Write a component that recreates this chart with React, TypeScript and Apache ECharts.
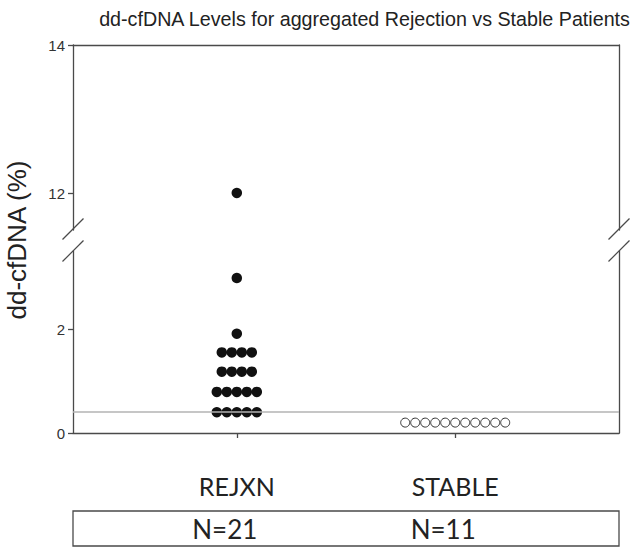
import React, { useEffect, useRef } from "react";
import * as echarts from "echarts";

const titleText = "dd-cfDNA Levels for aggregated Rejection vs Stable Patients";
const yAxisTitle = "dd-cfDNA (%)";
const categories = ["REJXN", "STABLE"];
const rejxnValues = [
  12.0, 2.98, 1.91,
  1.55, 1.55, 1.55, 1.55,
  1.18, 1.18, 1.18, 1.18,
  0.79, 0.79, 0.79, 0.79, 0.79,
  0.4, 0.4, 0.4, 0.4, 0.4,
];
const stableValues = [0.2, 0.2, 0.2, 0.2, 0.2, 0.2, 0.2, 0.2, 0.2, 0.2, 0.2];
const thresholdValue = 0.4;
const upperRange = [11.5, 14];
const lowerRange = [0, 3.5];
const upperTicks = [12, 14];
const lowerTicks = [0, 2];

const DOT = 10;
const AXIS_COLOR = "#4a4a4a";

function swarm(values: number[], xPos: number, keep: (v: number) => boolean) {
  const groups: Record<string, number[]> = {};
  values.filter(keep).forEach((v) => {
    const k = v.toFixed(2);
    (groups[k] = groups[k] || []).push(v);
  });
  const out: any[] = [];
  Object.keys(groups).forEach((k) => {
    const g = groups[k];
    g.forEach((v, i) => {
      out.push({ value: [xPos, v], symbolOffset: [(i - (g.length - 1) / 2) * DOT, 0] });
    });
  });
  return out;
}

export default function App() {
  const ref = useRef<HTMLDivElement>(null);
  useEffect(() => {
    if (!ref.current) return;
    const chart = echarts.init(ref.current, undefined, { renderer: "svg" });
    const isUpper = (v: number) => v > lowerRange[1];
    const isLower = (v: number) => v <= lowerRange[1];
    const gridL = 73;
    const gridR = 17;
    const lineStyle = { color: AXIS_COLOR, width: 1.3 };
    const yLabel = { color: "#333", fontSize: 15, fontFamily: "Liberation Sans", margin: 8 };
    const option: any = {
      animation: false,
      backgroundColor: "#fff",
      title: {
        text: titleText,
        right: 0,
        top: 4,
        textStyle: { fontFamily: "Liberation Sans", fontSize: 19.7, fontWeight: "normal", color: "#222" },
      },
      grid: [
        { left: gridL, right: gridR, top: 45, height: 185 },
        { left: gridL, right: gridR, top: 251, height: 182 },
      ],
      xAxis: [
        {
          gridIndex: 0, type: "value", position: "top", min: 0.25, max: 2.75,
          axisLine: { show: true, lineStyle }, axisTick: { show: false },
          axisLabel: { show: false }, splitLine: { show: false },
        },
        {
          gridIndex: 1, type: "value", position: "bottom", min: 0.25, max: 2.75,
          axisLine: { show: true, lineStyle },
          axisTick: { show: true, customValues: [1, 2], length: 5, lineStyle },
          axisLabel: {
            show: true, customValues: [1, 2],
            formatter: (v: number) => categories[Math.round(v) - 1] || "",
            fontFamily: "Lato", fontSize: 25, color: "#222", margin: 53, verticalAlign: "middle",
          },
          splitLine: { show: false },
        },
      ],
      yAxis: [
        {
          gridIndex: 0, type: "value", position: "left", min: upperRange[0], max: upperRange[1],
          axisLine: { show: true, lineStyle },
          axisTick: { show: true, customValues: upperTicks, length: 5, lineStyle },
          axisLabel: { ...yLabel, customValues: upperTicks },
          splitLine: { show: false },
        },
        {
          gridIndex: 0, type: "value", position: "right", min: upperRange[0], max: upperRange[1],
          axisLine: { show: true, lineStyle }, axisTick: { show: false },
          axisLabel: { show: false }, splitLine: { show: false },
        },
        {
          gridIndex: 1, type: "value", position: "left", min: lowerRange[0], max: lowerRange[1],
          axisLine: { show: true, lineStyle },
          axisTick: { show: true, customValues: lowerTicks, length: 5, lineStyle },
          axisLabel: { ...yLabel, customValues: lowerTicks },
          splitLine: { show: false },
        },
        {
          gridIndex: 1, type: "value", position: "right", min: lowerRange[0], max: lowerRange[1],
          axisLine: { show: true, lineStyle }, axisTick: { show: false },
          axisLabel: { show: false }, splitLine: { show: false },
        },
      ],
      series: [
        {
          type: "scatter", name: "REJXN upper", xAxisIndex: 0, yAxisIndex: 0,
          symbol: "circle", symbolSize: DOT + 0.5,
          itemStyle: { color: "#111", opacity: 1 },
          data: swarm(rejxnValues, 1, isUpper),
        },
        {
          type: "scatter", name: "REJXN", xAxisIndex: 1, yAxisIndex: 2,
          symbol: "circle", symbolSize: DOT + 0.5,
          itemStyle: { color: "#111", opacity: 1 },
          data: swarm(rejxnValues, 1, isLower),
          markLine: {
            silent: true, symbol: ["none", "none"], label: { show: false },
            lineStyle: { color: "#b3b3b3", width: 1.5, type: "solid" },
            data: [{ yAxis: thresholdValue }],
            z: 10,
          },
        },
        {
          type: "scatter", name: "STABLE", xAxisIndex: 1, yAxisIndex: 2,
          symbol: "circle", symbolSize: DOT - 1,
          itemStyle: { color: "#fff", borderColor: "#333", borderWidth: 1, opacity: 1 },
          data: swarm(stableValues, 2, isLower),
        },
      ],
    };
    chart.setOption(option);

    const p1 = chart.convertToPixel({ gridIndex: 1 }, [1, 0]) as number[];
    const p2 = chart.convertToPixel({ gridIndex: 1 }, [2, 0]) as number[];
    const leftX = gridL;
    const rightX = 636 - gridR;
    const slash = (cx: number, cy: number) => ({
      type: "line",
      shape: { x1: cx - 10.5, y1: cy + 10.5, x2: cx + 10.5, y2: cy - 10.5 },
      style: { stroke: AXIS_COLOR, lineWidth: 1.2 },
    });
    chart.setOption({
      graphic: [
        {
          type: "text", x: 17, y: 240, rotation: Math.PI / 2,
          style: {
            text: yAxisTitle, align: "center", verticalAlign: "middle",
            font: "26px 'Liberation Sans'", fill: "#222",
          },
        },
        slash(leftX, 229), slash(leftX, 251), slash(rightX, 229), slash(rightX, 251),
        {
          type: "rect", shape: { x: leftX, y: 511, width: rightX - leftX, height: 35 },
          style: { fill: "none", stroke: AXIS_COLOR, lineWidth: 1.3 },
        },
        {
          type: "text", x: p1[0] - 12, y: 529,
          style: { text: `N=${rejxnValues.length}`, align: "center", verticalAlign: "middle", font: "26px Lato", fill: "#222" },
        },
        {
          type: "text", x: p2[0] - 12, y: 529,
          style: { text: `N=${stableValues.length}`, align: "center", verticalAlign: "middle", font: "26px Lato", fill: "#222" },
        },
      ],
    });
    return () => chart.dispose();
  }, []);
  return <div ref={ref} style={{ position: "fixed", left: 0, top: 0, width: 636, height: 551 }} />;
}
